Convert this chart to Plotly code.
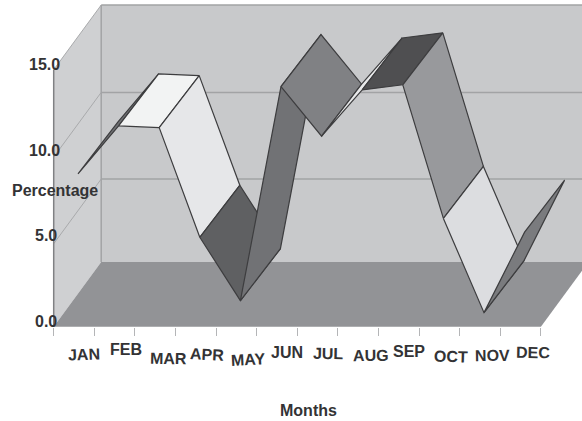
import plotly.graph_objects as go

# Monthly percentages
months = ["JAN", "FEB", "MAR", "APR", "MAY", "JUN", "JUL", "AUG", "SEP", "OCT", "NOV", "DEC"]
percentage = [8.6, 11.4, 11.3, 4.9, 1.2, 13.7, 10.8, 13.5, 13.8, 6.0, 0.5, 5.2]
value_ticks = [0, 5, 10, 15]

# Shade of each ribbon panel, from one month to the next
panel_colors = ["#6f7073", "#f2f3f3", "#e6e7e9", "#5f6062", "#717275", "#808184",
                "#e8e9ea", "#4f4f51", "#98999c", "#dcdde0", "#7a7b7e"]

# Staggered month labels: pixel nudges from the middle of each category
label_dx = [10, 11, 13, 11, 12, 10, 10, 13, 10, 12, 12, 12]
label_drop = [28, 23, 32, 28, 33, 26, 27, 29, 25, 30, 29, 26]
label_tilt = [-2, 0, 1, 3, -3, 0, 1, -1, 0, 2, -1, 1]

# Value labels: pixel nudges from the front edge of the left wall
value_label_dx = [5.3, 5.3, 8.3, 8.3]
value_label_lift = [5, 6, 5.4, 5]
# Gridlines sit slightly under their nominal height on the walls (pixels)
grid_drop = [0, 2.7, 1.7, 0]

WIDTH, HEIGHT = 582, 421
PX_X, PX_Y = 40.6, 17.13          # pixels per month and per percentage point
ORIGIN_X, ORIGIN_Y = 53.7, 326.7  # page position of the front corner
DEPTH_X, DEPTH_Y = 47.5 / PX_X, 64.7 / PX_Y    # oblique shift of the full box depth
RIBBON_SHIFT_X, RIBBON_SHIFT_Y = 4 / PX_X, 5.5 / PX_Y  # ribbon's front edge from the box front
RIBBON_X, RIBBON_Y = 40 / PX_X, 52 / PX_Y      # oblique width of the ribbon


def project(month, value, depth):
    """Oblique projection of a (month, value, depth) point onto the page axes."""
    return month + depth * DEPTH_X, value + depth * DEPTH_Y


def closed_area(points, fill, line_color=None, line_width=0):
    xs, ys = zip(*(points + points[:1]))
    return go.Scatter(x=xs, y=ys, mode="lines", fill="toself", fillcolor=fill,
                      line=dict(color=line_color or fill, width=line_width),
                      showlegend=False, hoverinfo="skip")


def box_face(corners, fill):
    return closed_area([project(*c) for c in corners], fill)


def polyline(corners, color, width):
    xs, ys = zip(*[project(*c) for c in corners])
    return go.Scatter(x=xs, y=ys, mode="lines", line=dict(color=color, width=width),
                      showlegend=False, hoverinfo="skip")


def ribbon_edge(month, value, back):
    """Point on the ribbon; back=0 is its front edge and back=1 its rear edge."""
    return (month + RIBBON_SHIFT_X + back * RIBBON_X,
            value + RIBBON_SHIFT_Y + back * RIBBON_Y)


top = value_ticks[-1]
end = len(months)
fig = go.Figure()

# Walls and floor of the box
fig.add_trace(box_face([(0, 0, 1), (end, 0, 1), (end, top, 1), (0, top, 1)], "#c8c9cb"))
fig.add_trace(box_face([(0, 0, 0), (0, 0, 1), (0, top, 1), (0, top, 0)], "#cfd0d2"))
fig.add_trace(box_face([(0, 0, 0), (end, 0, 0), (end, 0, 1), (0, 0, 1)], "#929396"))

# Gridlines running along the left wall and across the back wall
for tick, drop in list(zip(value_ticks, grid_drop))[1:]:
    level = tick - drop / PX_Y
    fig.add_trace(polyline([(0, level, 0), (0, level, 1)], "#a9aaac", 1))
    fig.add_trace(polyline([(0, level, 1), (end, level, 1)], "#a2a3a5", 1.5))
fig.add_trace(polyline([(0, 0, 1), (0, top, 1)], "#a2a3a5", 1.5))
fig.add_trace(polyline([(0, 0, 0), (0, top, 0)], "#808184", 1.5))

# Ribbon panels, painted left to right so that later months sit in front
for i, shade in enumerate(panel_colors):
    a, b = i + 0.5, i + 1.5
    va, vb = percentage[i], percentage[i + 1]
    fig.add_trace(closed_area([ribbon_edge(a, va, 0), ribbon_edge(b, vb, 0),
                               ribbon_edge(b, vb, 1), ribbon_edge(a, va, 1)],
                              shade, "#3d3d3f", 1.2))

annotations = [
    dict(x=i + 0.5, y=0, xref="x", yref="y", text=name, showarrow=False,
         xanchor="center", yanchor="middle", xshift=dx, yshift=-drop, textangle=tilt)
    for i, (name, dx, drop, tilt) in enumerate(zip(months, label_dx, label_drop, label_tilt))
]
annotations += [
    dict(x=0, y=tick, xref="x", yref="y", text=f"{tick:.1f}", showarrow=False,
         xanchor="right", yanchor="middle", xshift=dx, yshift=lift)
    for tick, dx, lift in zip(value_ticks, value_label_dx, value_label_lift)
]
annotations.append(dict(x=54.7 / WIDTH, y=1 - 190.7 / HEIGHT, xref="paper", yref="paper",
                        text="Percentage", showarrow=False, xanchor="center", yanchor="middle"))
annotations.append(dict(x=308 / WIDTH, y=1 - 410 / HEIGHT, xref="paper", yref="paper",
                        text="Months", showarrow=False, xanchor="center", yanchor="middle"))

fig.update_layout(
    width=WIDTH, height=HEIGHT,
    margin=dict(l=0, r=0, t=0, b=0),
    paper_bgcolor="white", plot_bgcolor="white",
    showlegend=False,
    font=dict(family="Liberation Sans", size=16, color="#333335", weight="bold"),
    annotations=annotations,
    xaxis=dict(
        range=[-ORIGIN_X / PX_X, (WIDTH - ORIGIN_X) / PX_X],
        domain=[0, 1], anchor="free", position=(HEIGHT - ORIGIN_Y) / HEIGHT,
        tickmode="array", tickvals=list(range(end + 1)), showticklabels=False,
        ticks="outside", ticklen=8, tickwidth=1, tickcolor="#b4b5b7",
        showgrid=False, zeroline=False, showline=False, fixedrange=True,
    ),
    yaxis=dict(
        range=[-(HEIGHT - ORIGIN_Y) / PX_Y, ORIGIN_Y / PX_Y],
        domain=[0, 1], anchor="free", position=ORIGIN_X / WIDTH,
        tickmode="array", tickvals=value_ticks, showticklabels=False,
        ticks="", showgrid=False, zeroline=False, showline=False, fixedrange=True,
    ),
)

fig.write_html("out.html")
